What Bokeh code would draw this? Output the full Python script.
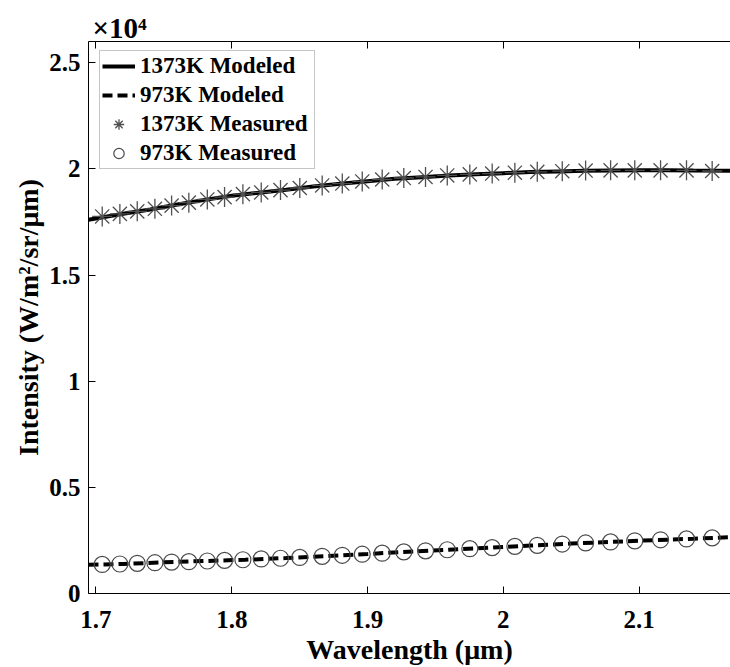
from bokeh.plotting import figure
from bokeh.models import Range1d, FixedTicker, LinearAxis, Title, Legend, LegendItem
from bokeh.embed import file_html
from bokeh.resources import INLINE

# ---- data ----
wl_meas = [1.7046, 1.7176, 1.7304, 1.7434, 1.7557, 1.7684, 1.7820, 1.7947, 1.8082, 1.8217,
           1.8359, 1.8501, 1.8666, 1.8814, 1.8961, 1.9108, 1.9267, 1.9427, 1.9587, 1.9753,
           1.9918, 2.0085, 2.0250, 2.0434, 2.0606, 2.0790, 2.0968, 2.1158, 2.1349, 2.1538]
i1373_meas = [17760, 17880, 18000, 18120, 18270, 18410, 18560, 18670, 18810, 18890,
              19000, 19100, 19220, 19310, 19410, 19500, 19570, 19620, 19690, 19740,
              19780, 19820, 19860, 19890, 19920, 19930, 19930, 19930, 19930, 19900]
i973_meas = [1370, 1390, 1420, 1450, 1480, 1500, 1530, 1560, 1590, 1630,
             1660, 1700, 1750, 1800, 1850, 1900, 1960, 2010, 2060, 2110,
             2160, 2220, 2270, 2330, 2380, 2430, 2480, 2530, 2570, 2620]
wl_model_1373 = [1.6945, 1.72, 1.74, 1.76, 1.78, 1.80, 1.82, 1.84, 1.86, 1.88, 1.90, 1.92,
                 1.94, 1.96, 1.98, 2.00, 2.02, 2.04, 2.06, 2.08, 2.10, 2.12, 2.14, 2.1673]
i1373_model = [17600, 17890, 18090, 18320, 18540, 18730, 18880, 19020, 19170, 19300, 19420, 19530,
               19610, 19690, 19750, 19800, 19850, 19880, 19910, 19920, 19930, 19930, 19920, 19910]
wl_model_973 = [1.6945, 1.72, 1.75, 1.78, 1.81, 1.84, 1.87, 1.90, 1.93, 1.96, 1.99, 2.02,
                2.05, 2.08, 2.11, 2.14, 2.1673]
i973_model = [1350, 1390, 1470, 1530, 1590, 1670, 1760, 1860, 1970, 2060, 2160, 2260,
              2350, 2430, 2510, 2580, 2650]
x_ticks = [1.7, 1.8, 1.9, 2.0, 2.1]
x_tick_labels = ["1.7", "1.8", "1.9", "2", "2.1"]
y_ticks = [0, 5000, 10000, 15000, 20000, 25000]
y_tick_labels = ["0", "0.5", "1", "1.5", "2", "2.5"]
legend_labels = ["1373K Modeled", "973K Modeled", "1373K Measured", "973K Measured"]

FONT = "Liberation Serif"

p = figure(width=730, height=667, output_backend="svg", toolbar_location=None,
           x_range=Range1d(1.6945, 2.1673), y_range=Range1d(0, 26000),
           min_border_left=88, min_border_right=0, min_border_top=41, min_border_bottom=74,
           background_fill_color="white", border_fill_color="white")
p.outline_line_color = None
p.xgrid.visible = False
p.ygrid.visible = False

def style_axis(ax):
    ax.axis_line_color = "black"
    ax.axis_line_width = 1
    ax.major_tick_in = 7
    ax.major_tick_out = 0
    ax.minor_tick_line_color = None
    ax.major_tick_line_color = "black"
    ax.major_label_text_font = FONT
    ax.major_label_text_font_style = "bold"
    ax.major_label_text_font_size = "25px"
    ax.major_label_text_color = "black"
    ax.axis_label_text_font = FONT
    ax.axis_label_text_font_style = "bold"
    ax.axis_label_text_font_size = "28px"
    ax.axis_label_text_color = "black"

xa = p.xaxis[0]
xa.ticker = FixedTicker(ticks=x_ticks)
xa.major_label_overrides = {t: l for t, l in zip(x_ticks, x_tick_labels)}
xa.axis_label = "Wavelength (μm)"
style_axis(xa)
xa.major_label_standoff = 17
xa.axis_label_standoff = 3

ya = p.yaxis[0]
ya.ticker = FixedTicker(ticks=y_ticks)
ya.major_label_overrides = {t: l for t, l in zip(y_ticks, y_tick_labels)}
ya.axis_label = "Intensity (W/m²/sr/μm)"
style_axis(ya)
ya.major_label_standoff = 8
ya.axis_label_standoff = 2

top = LinearAxis(ticker=FixedTicker(ticks=x_ticks))
style_axis(top)
top.major_label_overrides = {t: "" for t in x_ticks}
top.major_label_standoff = 0
p.add_layout(top, "above")

# exponent label (x10^4)
title = Title(text="×10⁴", align="left", offset=4, text_font=FONT, text_font_style="bold",
              text_font_size="29px", text_color="black", standoff=-5)
p.add_layout(title, "above")

# data
r1 = p.line(wl_model_1373, i1373_model, line_color="black", line_width=4)
r2 = p.line(wl_model_973, i973_model, line_color="black", line_width=4, line_dash="10 5")
r3 = p.scatter(wl_meas, i1373_meas, marker="asterisk", size=20, line_color="#505050", line_width=1.3)
r4 = p.scatter(wl_meas, i973_meas, marker="circle", size=16, line_color="#4a4a4a",
               line_width=1.2, fill_color=None)

legend = Legend(items=[LegendItem(label=legend_labels[0], renderers=[r1]),
                       LegendItem(label=legend_labels[1], renderers=[r2]),
                       LegendItem(label=legend_labels[2], renderers=[r3]),
                       LegendItem(label=legend_labels[3], renderers=[r4])],
                location=(11, 424))
legend.label_text_font = FONT
legend.label_text_font_style = "bold"
legend.label_text_font_size = "23px"
legend.label_text_color = "black"
legend.border_line_color = "#8c8c8c"
legend.border_line_width = 1
legend.background_fill_alpha = 1
legend.padding = 2
legend.spacing = 3
legend.margin = 0
legend.glyph_width = 33
legend.glyph_height = 26
legend.label_height = 26
legend.label_width = 172
legend.label_standoff = 5
p.add_layout(legend)

open("out.html", "w").write(file_html(p, INLINE))
